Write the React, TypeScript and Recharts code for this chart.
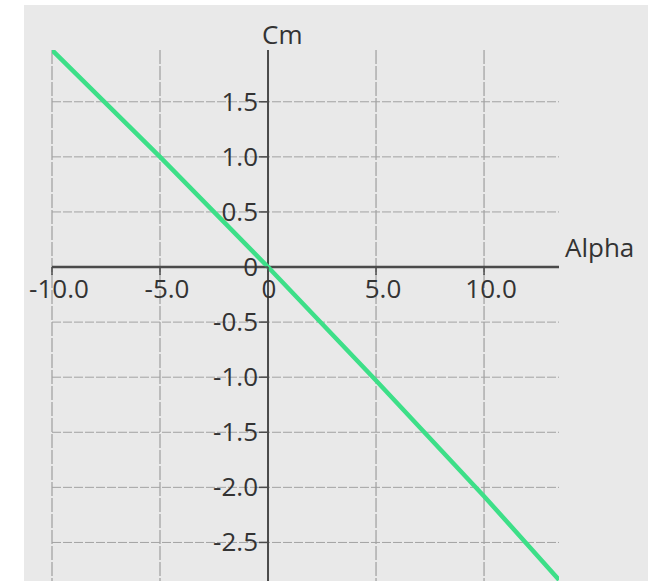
import {
  CartesianGrid,
  Line,
  LineChart,
  ReferenceDot,
  ReferenceLine,
  XAxis,
  YAxis,
} from "recharts";

const alpha = [-10, -5, 0, 5, 10, 13.47];
const cm = [1.97, 1.0, 0.0, -1.03, -2.08, -2.84];

const xTicks = [-10, -5, 0, 5, 10];
const xTickLabels = ["-10.0", "-5.0", "0", "5.0", "10.0"];
const yTicks = [1.5, 1.0, 0.5, 0, -0.5, -1.0, -1.5, -2.0, -2.5];
const yTickLabels = ["1.5", "1.0", "0.5", "0", "-0.5", "-1.0", "-1.5", "-2.0", "-2.5"];

const xDomain: [number, number] = [-10, 13.47];
const yDomain: [number, number] = [-2.85, 1.97];

const data = alpha.map((a, i) => ({ alpha: a, cm: cm[i] }));

const FONT = "'Open Sans', 'Noto Sans', sans-serif";
const TEXT = "#333";
const AXIS = "#4a4a4a";
const FS = 26;

type DotProps = { cx?: number; cy?: number };

const xTickShape = (label: string) => (p: DotProps) => {
  const cx = p.cx ?? 0;
  const cy = p.cy ?? 0;
  const dx = label === "0" ? 1 : 7;
  return (
    <g>
      <line x1={cx} y1={cy} x2={cx} y2={cy + 8} stroke={AXIS} strokeWidth={1.5} />
      <text x={cx + dx} y={cy + 31} textAnchor="middle" fontSize={FS} fontFamily={FONT} fill={TEXT}>
        {label}
      </text>
    </g>
  );
};

const yTickShape = (label: string) => (p: DotProps) => {
  const cx = p.cx ?? 0;
  const cy = p.cy ?? 0;
  return (
    <g>
      <line x1={cx - 9} y1={cy} x2={cx} y2={cy} stroke={AXIS} strokeWidth={1.5} />
      <text x={cx - 10} y={cy + 9} textAnchor="end" fontSize={FS} fontFamily={FONT} fill={TEXT}>
        {label}
      </text>
    </g>
  );
};

const cmLabel = (p: DotProps) => (
  <text x={(p.cx ?? 0) - 6} y={(p.cy ?? 0) - 6} fontSize={FS} fontFamily={FONT} fill={TEXT}>
    Cm
  </text>
);

const alphaLabel = (p: DotProps) => (
  <text x={(p.cx ?? 0) + 6} y={(p.cy ?? 0) - 10} fontSize={FS} fontFamily={FONT} fill={TEXT}>
    Alpha
  </text>
);

export default function App() {
  return (
    <div style={{ position: "absolute", left: 0, top: 0, width: 657, height: 581, background: "#fff" }}>
      <div style={{ position: "absolute", left: 24, top: 5, width: 624, height: 576, background: "#e9e9e9" }} />
      <div style={{ position: "absolute", left: 0, top: 0 }}>
        <LineChart
          width={657}
          height={581}
          data={data}
          margin={{ top: 50, left: 52, right: 98, bottom: 0 }}
        >
          <XAxis dataKey="alpha" type="number" domain={xDomain} allowDataOverflow hide />
          <YAxis type="number" domain={yDomain} allowDataOverflow hide />
          <CartesianGrid
            horizontal={false}
            verticalValues={xTicks}
            stroke="#8f8f8f"
            strokeDasharray="14 2"
            strokeWidth={1}
          />
          <CartesianGrid
            vertical={false}
            horizontalValues={yTicks}
            stroke="#a2a2a2"
            strokeDasharray="9 2"
            strokeWidth={1}
          />
          <ReferenceLine x={0} stroke={AXIS} strokeWidth={2} />
          <ReferenceLine y={0} stroke={AXIS} strokeWidth={2.5} />
          {xTicks.map((t, i) => (
            <ReferenceDot key={"x" + t} x={t} y={0} r={0} ifOverflow="visible" shape={xTickShape(xTickLabels[i])} />
          ))}
          {yTicks.map((t, i) => (
            <ReferenceDot key={"y" + t} x={0} y={t} r={0} ifOverflow="visible" shape={yTickShape(yTickLabels[i])} />
          ))}
          <ReferenceDot x={0} y={yDomain[1]} r={0} ifOverflow="visible" shape={cmLabel} />
          <ReferenceDot x={xDomain[1]} y={0} r={0} ifOverflow="visible" shape={alphaLabel} />
          <Line
            dataKey="cm"
            type="linear"
            stroke="#3ddf88"
            strokeWidth={4.5}
            dot={false}
            isAnimationActive={false}
          />
        </LineChart>
      </div>
    </div>
  );
}
